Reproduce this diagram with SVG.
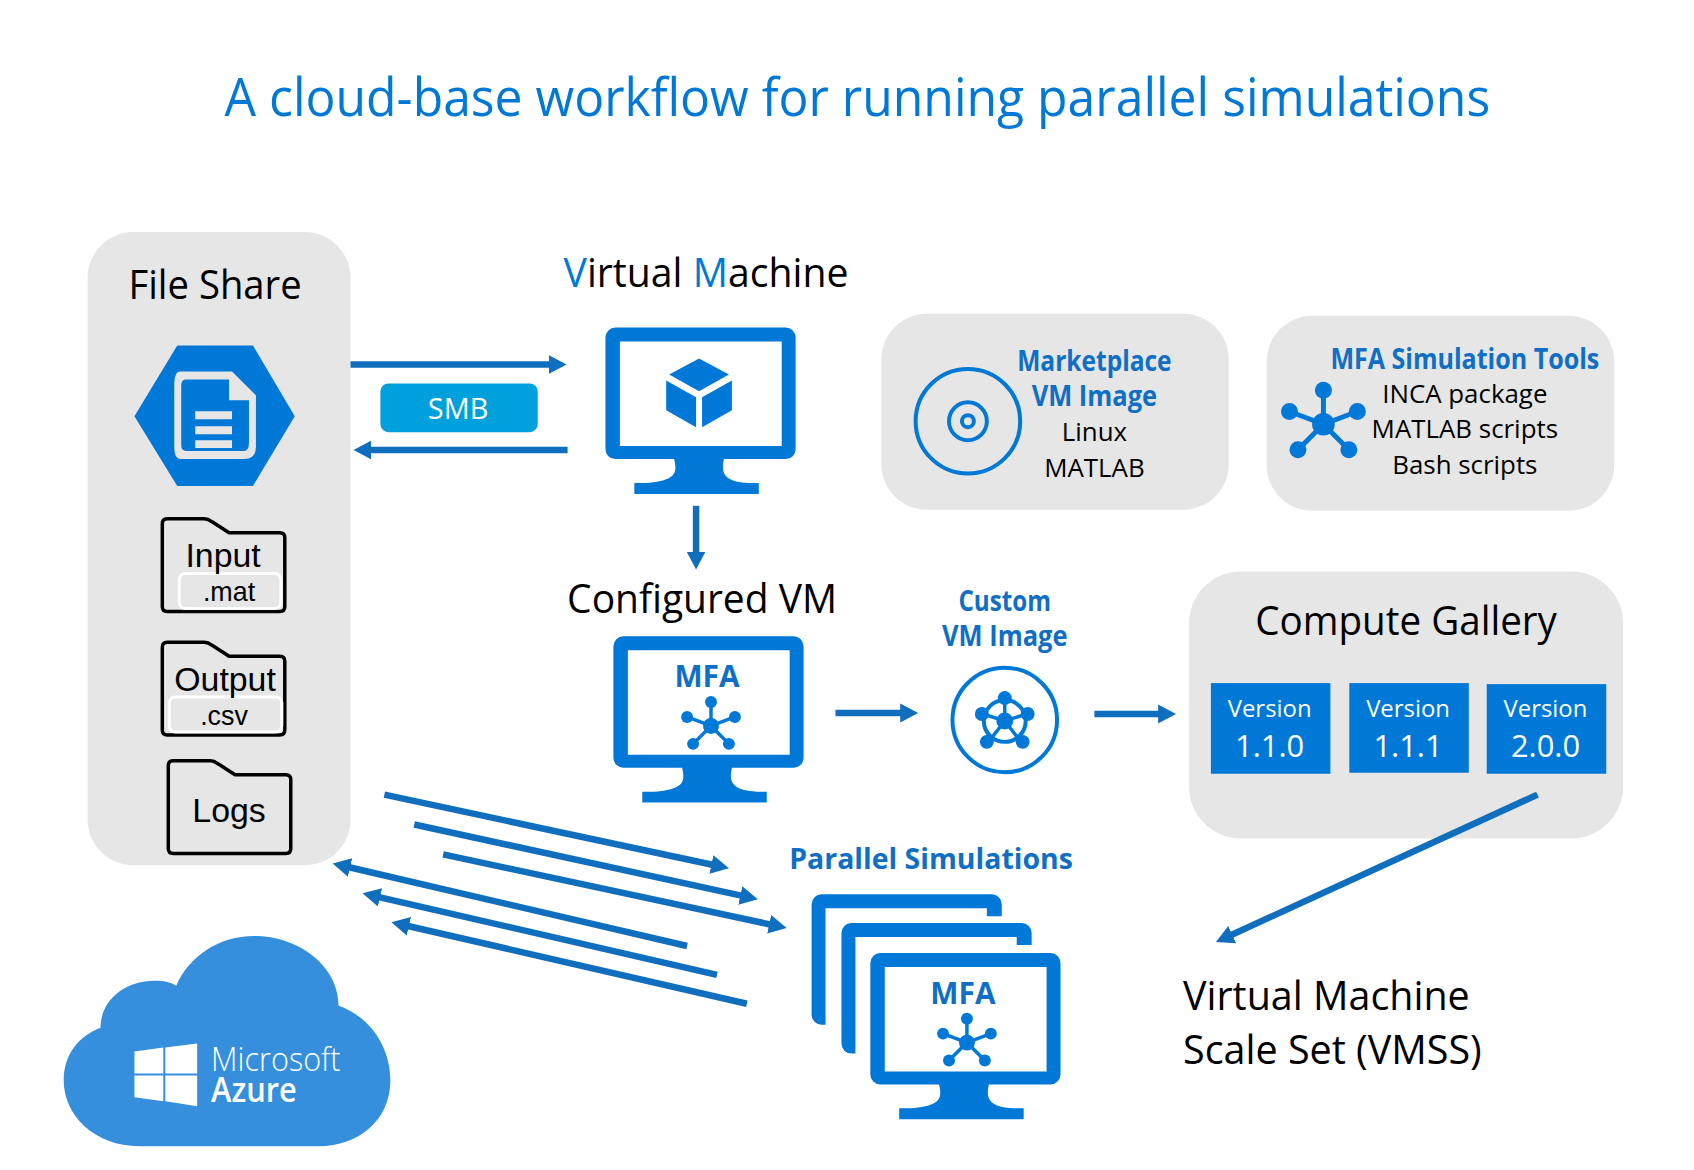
<svg xmlns="http://www.w3.org/2000/svg" width="1694" height="1170" viewBox="0 0 1694 1170">
<style>
text{font-family:"Open Sans","Noto Sans","Liberation Sans",sans-serif;text-anchor:middle}
.panel{fill:#e6e6e6}
.blue{fill:#0078d7}
.h{font-size:40px;fill:#000}
.b{font-size:28px;font-weight:700;fill:#0f6fc6}
.r{font-size:26px;fill:#000}
.f{font-size:34px;fill:#000;font-family:"Liberation Sans",Arial,sans-serif}
.e{font-size:27px;fill:#000;font-family:"Liberation Sans",Arial,sans-serif}
.w{fill:#fff}
.folder{fill:none;stroke:#000;stroke-width:3.500;stroke-linejoin:round}
.tag{fill:#e6e6e6;stroke:#fff;stroke-width:3}
.conn line{stroke:#106ebe;stroke-width:6.500;fill:none}
.hubl{stroke:#0078d7;fill:none}
</style>
<defs>
<marker id="head" markerUnits="userSpaceOnUse" markerWidth="20" markerHeight="22" refX="1" refY="10" orient="auto"><path d="M0 0.500L18 10L0 19.500Z" fill="#106ebe"/></marker>
<g id="frame"><path class="blue" fill-rule="evenodd" d="M10 0H181A10 10 0 0 1 191 10V122A10 10 0 0 1 181 132H119C116 145 118 155 144 156H154V167H29V156H40C72 154 72 145 69 132H10A10 10 0 0 1 0 122V10A10 10 0 0 1 10 0ZM14.500 14V119H177V14Z"/></g>
<g id="hub"><g class="hubl" stroke-width="3.500"><path d="M0 0V-24M0 0L-24 -9M0 0L24 -9M0 0L-18 18M0 0L18 18"/></g><g class="blue"><circle r="8"/><circle cy="-24" r="6"/><circle cx="-24" cy="-9" r="6"/><circle cx="24" cy="-9" r="6"/><circle cx="-18" cy="18" r="6"/><circle cx="18" cy="18" r="6"/></g></g>
<path id="folder" d="M10 0H42Q46 0 50 3L67 14H118Q123 14 123 19V88Q123 93 118 93H5Q0 93 0 88V5Q0 0 5 0Z"/>
</defs>
<g transform="scale(.9958)">
<text x="861" y="116" font-size="54" font-weight="500" fill="#0078d7" textLength="1271" lengthAdjust="spacingAndGlyphs">A cloud-base workflow for running parallel simulations</text>

<g id="file-share">
<rect class="panel" x="88" y="233" width="264" height="636" rx="46"/>
<text class="h" x="216" y="300" textLength="174" lengthAdjust="spacingAndGlyphs">File Share</text>
<path class="blue" d="M178 347H254L296 418L254 488H178L135 418Z"/>
<path d="M181 373H233L257 397V449Q257 461 245 461H181Q175 461 175 449V385Q175 373 181 373Z" fill="#e6e6e6"/>
<path class="blue" d="M187 381H230V402H250V445Q250 453 244 453H187Q182 453 182 447V387Q182 381 187 381Z"/>
<path d="M196 413H233V421H196ZM196 428H233V436H196ZM196 442H233V450H196Z" fill="#e6e6e6"/>
</g>
<g id="folder-input"><use href="#folder" class="folder" x="163" y="521"/><rect class="tag" x="180" y="576" width="102" height="35" rx="6"/><text class="f" x="224" y="569">Input</text><text class="e" x="230" y="604">.mat</text></g>
<g id="folder-output"><use href="#folder" class="folder" x="163" y="645"/><rect class="tag" x="170" y="700" width="113" height="35" rx="6"/><text class="f" x="226" y="694">Output</text><text class="e" x="225" y="728">.csv</text></g>
<g id="folder-logs"><use href="#folder" class="folder" x="169" y="764"/><text class="f" x="230" y="825">Logs</text></g>

<g id="smb"><rect x="382" y="385" width="158" height="49" rx="8" fill="#00a0dc"/><text class="w" x="460" y="421" font-size="29">SMB</text></g>

<g id="virtual-machine">
<text class="h" x="709" y="288" textLength="286" lengthAdjust="spacingAndGlyphs"><tspan fill="#0078d7">V</tspan>irtual <tspan fill="#0078d7">M</tspan>achine</text>
<use href="#frame" x="608" y="329"/>
<g transform="translate(608 329)" class="blue"><path d="M94 31L124 47L94 64L64 47ZM61 53L91 70V100L61 83ZM97 70L127 53V83L97 100Z"/></g>
</g>

<g id="marketplace">
<rect class="panel" x="885" y="315" width="349" height="197" rx="46"/>
<g fill="none" stroke="#0078d7" stroke-width="4"><circle cx="972" cy="423" r="52.500"/><circle cx="972" cy="423" r="19"/><circle cx="972" cy="423" r="6"/></g>
<text class="b" x="1099" y="373" textLength="155" lengthAdjust="spacingAndGlyphs">Marketplace</text>
<text class="b" x="1099" y="408" textLength="126" lengthAdjust="spacingAndGlyphs">VM Image</text>
<text class="r" x="1099" y="443">Linux</text>
<text class="r" x="1099" y="479">MATLAB</text>
</g>

<g id="mfa-tools">
<rect class="panel" x="1272" y="317" width="349" height="196" rx="46"/>
<g transform="translate(1329 426) scale(1.42)"><use href="#hub"/></g>
<text class="b" x="1471" y="371" textLength="270" lengthAdjust="spacingAndGlyphs">MFA Simulation Tools</text>
<text class="r" x="1471" y="405">INCA package</text>
<text class="r" x="1471" y="440">MATLAB scripts</text>
<text class="r" x="1471" y="476">Bash scripts</text>
</g>

<g id="configured-vm">
<text class="h" x="705" y="616" textLength="271" lengthAdjust="spacingAndGlyphs">Configured VM</text>
<use href="#frame" x="616" y="639"/>
<text class="b" x="710" y="690" style="font-size:30px" fill="#0078d7">MFA</text>
<use href="#hub" x="714" y="729"/>
</g>

<g id="custom-image">
<text class="b" x="1009" y="614" textLength="93" lengthAdjust="spacingAndGlyphs">Custom</text>
<text class="b" x="1009" y="649" textLength="126" lengthAdjust="spacingAndGlyphs">VM Image</text>
<circle cx="1009" cy="723" r="52.500" fill="none" stroke="#0078d7" stroke-width="4"/>
<g transform="translate(1009 724)">
<circle r="21" fill="none" stroke="#0078d7" stroke-width="4"/>
<g stroke="#0078d7" stroke-width="3.500"><path d="M0 0V-22M0 0L-22 -7M0 0L22 -7M0 0L-14 18M0 0L14 18"/></g>
<g class="blue"><circle r="8.500"/><circle cy="-23" r="7"/><circle cx="-23" cy="-7" r="7"/><circle cx="23" cy="-7" r="7"/><circle cx="-18" cy="21" r="7"/><circle cx="18" cy="21" r="7"/></g>
</g>
</g>

<g id="compute-gallery">
<rect class="panel" x="1194" y="574" width="436" height="268" rx="52"/>
<text class="h" x="1412" y="638" textLength="303" lengthAdjust="spacingAndGlyphs">Compute Gallery</text>
<rect class="blue" x="1216" y="686" width="120" height="91"/>
<rect class="blue" x="1355" y="686" width="120" height="90"/>
<rect class="blue" x="1493" y="687" width="120" height="90"/>
<text class="w" font-size="24" x="1275" y="720">Version</text><text class="w" font-size="31" x="1275" y="760">1.1.0</text>
<text class="w" font-size="24" x="1414" y="720">Version</text><text class="w" font-size="31" x="1414" y="760">1.1.1</text>
<text class="w" font-size="24" x="1552" y="720">Version</text><text class="w" font-size="31" x="1552" y="760">2.0.0</text>
</g>

<g id="parallel-simulations">
<text class="b" x="935" y="873" textLength="285" lengthAdjust="spacingAndGlyphs">Parallel Simulations</text>
<path class="blue" d="M825 898H996A10 10 0 0 1 1006 908V920H991V912H829V1029H825A10 10 0 0 1 815 1019V908A10 10 0 0 1 825 898Z"/>
<path class="blue" d="M855 927H1026A10 10 0 0 1 1036 937V949H1021V941H859V1058H855A10 10 0 0 1 845 1048V937A10 10 0 0 1 855 927Z"/>
<use href="#frame" x="874" y="957"/>
<text class="b" x="967" y="1008" style="font-size:30px" fill="#0078d7">MFA</text>
<use href="#hub" x="971" y="1047"/>
</g>

<g id="vmss">
<text class="h" x="1188" y="1014" style="text-anchor:start" textLength="288" lengthAdjust="spacingAndGlyphs">Virtual Machine</text>
<text class="h" x="1188" y="1068" style="text-anchor:start" textLength="300" lengthAdjust="spacingAndGlyphs">Scale Set (VMSS)</text>
</g>

<g id="azure">
<path fill="#368fdd" d="M140 1151C95 1151 64 1120 64 1085C64 1058 80 1040 101 1032C101 1005 125 985 155 985C165 985 170 986 177 990C190 960 220 940 255 940C300 940 340 970 340 1010C370 1020 392 1050 392 1085C392 1125 360 1151 320 1151Z"/>
<path fill="#fff" d="M135 1056L164 1052V1078H135ZM166 1052L198 1048V1078H166ZM135 1080H164V1106L135 1102ZM166 1080H198V1111L166 1106Z"/>
<text class="w" x="212" y="1076" font-size="33" font-weight="300" style="text-anchor:start" textLength="130" lengthAdjust="spacingAndGlyphs">Microsoft</text>
<text class="w" x="212" y="1107" font-size="34" font-weight="600" style="text-anchor:start" textLength="86" lengthAdjust="spacingAndGlyphs">Azure</text>
</g>

<g id="connectors" class="conn">
<line x1="352" y1="366" x2="552" y2="366" marker-end="url(#head)"/>
<line x1="570" y1="452" x2="372" y2="452" marker-end="url(#head)"/>
<line x1="699" y1="508" x2="699" y2="555" marker-end="url(#head)"/>
<line x1="839" y1="716" x2="905" y2="716" marker-end="url(#head)"/>
<line x1="1099" y1="717" x2="1164" y2="717" marker-end="url(#head)"/>
<line x1="1544" y1="798" x2="1236.500" y2="938.900" marker-end="url(#head)"/>
<line x1="386" y1="798" x2="715.400" y2="868.400" marker-end="url(#head)"/>
<line x1="416" y1="828" x2="744.400" y2="899.400" marker-end="url(#head)"/>
<line x1="445" y1="858" x2="773.400" y2="928.400" marker-end="url(#head)"/>
<line x1="690" y1="950" x2="350.600" y2="870.900" marker-end="url(#head)"/>
<line x1="720" y1="979" x2="380.600" y2="900.900" marker-end="url(#head)"/>
<line x1="750" y1="1008" x2="409.600" y2="929.900" marker-end="url(#head)"/>
</g>
</g>
</svg>
